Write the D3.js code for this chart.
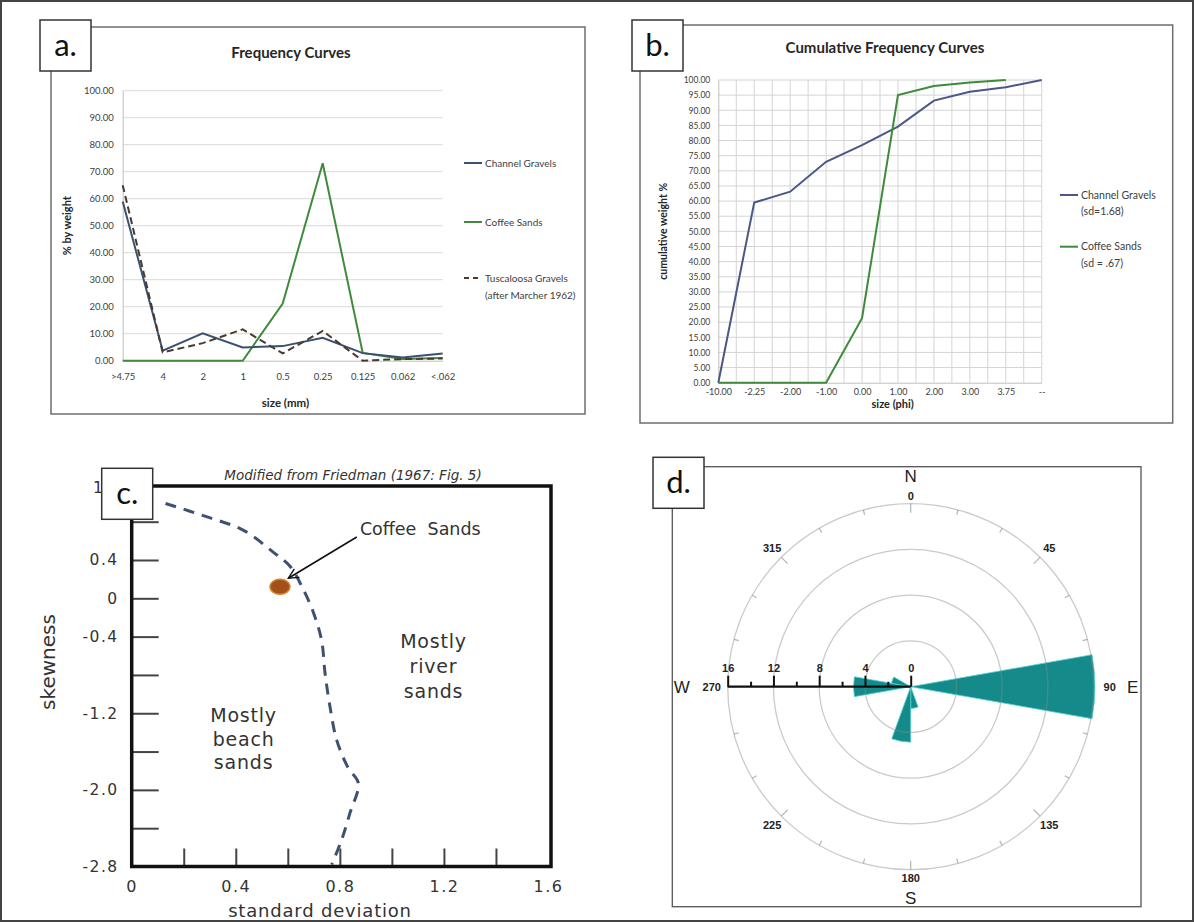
<!DOCTYPE html>
<html>
<head>
<meta charset="utf-8">
<script src="https://cdn.jsdelivr.net/npm/d3@7/dist/d3.min.js"></script>
<style>
  body { margin: 0; background: #fff; }
  svg { display: block; font-family: Lato, "Open Sans", sans-serif; }
</style>
</head>
<body>
<svg id="chart" width="1194" height="922"></svg>
<script>
// ---- a. frequency curves ----
const sizeClasses = ['>4.75', '4', '2', '1', '0.5', '0.25', '0.125', '0.062', '<.062'];
const channelGravelsPct = [59, 3.7, 10.1, 4.9, 5.4, 8.5, 2.8, 1.2, 2.7];
const coffeeSandsPct = [0, 0, 0, 0, 21.2, 73.1, 2.9, 0.6, 1.0];
const tuscaloosaPct = [65, 3.1, 6.5, 11.6, 2.7, 11.0, 0, 0.6, 0.8];
const freqLegend = [['Channel Gravels'], ['Coffee Sands'], ['Tuscaloosa Gravels', '(after Marcher 1962)']];

// ---- b. cumulative curves ----
const phiClasses = ['-10.00', '-2.25', '-2.00', '-1.00', '0.00', '1.00', '2.00', '3.00', '3.75', '--'];
const channelGravelsCum = [0, 59.5, 63.1, 73.0, 78.5, 84.6, 93.2, 96.1, 97.6, 100];
const coffeeSandsCum = [0, 0, 0, 0, 21.3, 95.0, 98.0, 99.2, 100, null];
const cumLegend = [['Channel Gravels', '(sd=1.68)'], ['Coffee Sands', '(sd = .67)']];

// ---- c. Friedman skewness vs standard deviation ----
const friedmanSD = [0.13, 0.29, 0.43, 0.54, 0.61, 0.66, 0.70, 0.73, 0.743, 0.762, 0.788, 0.832, 0.871, 0.839, 0.807, 0.769];
const friedmanSkew = [0.99, 0.85, 0.71, 0.49, 0.33, 0.09, -0.16, -0.44, -0.78, -1.13, -1.48, -1.77, -1.93, -2.24, -2.52, -2.78];
const coffeeSandsSD = 0.57;
const coffeeSandsSkew = 0.12;
const sdLabels = [0, 0.4, 0.8, 1.2, 1.6];
const sdTicks = [0.2, 0.4, 0.6, 0.8, 1.0, 1.2, 1.4];
const skewLabels = [-2.8, -2.0, -1.2, -0.4, 0, 0.4];
const skewTicks = [-2.4, -2.0, -1.6, -1.2, -0.8, -0.4, 0, 0.4, 0.8];

// ---- d. rose diagram ----
const roseDirections = [90, 170, 190, 270, 290];
const roseCounts = [16.1, 1.9, 4.85, 5.0, 1.7];
const roseBinWidth = 20;
const roseRings = [4, 8, 12, 16];
const roseAngleLabels = [0, 45, 90, 135, 180, 225, 270, 315];
const compassLetters = ['N', 'E', 'S', 'W'];

const svg = d3.select('#chart');

svg.append('rect')
    .attr('x', 1).attr('y', 1).attr('width', 1192).attr('height', 920)
    .attr('fill', '#fff').attr('stroke', '#444').attr('stroke-width', 2);

function labelBox(x, y, text) {
    svg.append('rect')
        .attr('x', x).attr('y', y).attr('width', 51).attr('height', 51)
        .attr('fill', '#fff').attr('stroke', '#333').attr('stroke-width', 1.5);
    svg.append('text')
        .attr('x', x + 25.5).attr('y', y + 36)
        .attr('text-anchor', 'middle')
        .attr('font-size', '31px')
        .attr('fill', '#111')
        .text(text);
}

function legendBlock(g, items, colors, dashes, x, ys, lineGap, fontSize) {
    items.forEach((lines, i) => {
        g.append('line')
            .attr('x1', x).attr('x2', x + 18)
            .attr('y1', ys[i]).attr('y2', ys[i])
            .attr('stroke', colors[i]).attr('stroke-width', 2)
            .attr('stroke-dasharray', dashes[i]);
        lines.forEach((t, j) => {
            g.append('text')
                .attr('x', x + 21).attr('y', ys[i] + j * lineGap)
                .attr('dy', '0.35em')
                .attr('font-size', fontSize)
                .attr('fill', '#404040')
                .text(t);
        });
    });
}

// hyphen minus, as in the original figure
const hyphen = f => d => f(d).replace('\u2212', '-');

// ================= a. =================
function drawFrequency() {
    const g = svg.append('g');
    g.append('rect')
        .attr('x', 51).attr('y', 27).attr('width', 534).attr('height', 387)
        .attr('fill', '#fff').attr('stroke', '#6e6e6e').attr('stroke-width', 1.5);

    const x = d3.scalePoint().domain(sizeClasses).range([122.7, 442.7]);
    const y = d3.scaleLinear().domain([0, 100]).range([360.7, 90.7]);

    g.append('g').selectAll('line')
        .data(d3.range(10, 101, 10))
        .join('line')
        .attr('x1', x.range()[0]).attr('x2', x.range()[1])
        .attr('y1', d => y(d)).attr('y2', d => y(d))
        .attr('stroke', '#d9d9d9');

    const yAxis = g.append('g')
        .attr('transform', `translate(${x.range()[0]},0)`)
        .call(d3.axisLeft(y).tickValues(d3.range(0, 101, 10)).tickFormat(d3.format('.2f')).tickSize(0).tickPadding(9));
    yAxis.select('.domain').attr('stroke', '#bfbfbf');
    yAxis.selectAll('text').attr('font-size', '9.5px').attr('font-family', 'Lato').attr('fill', '#404040');

    const xAxis = g.append('g')
        .attr('transform', `translate(0,${y(0)})`)
        .call(d3.axisBottom(x).tickSize(0).tickPadding(13));
    xAxis.select('.domain').attr('stroke', '#bfbfbf');
    xAxis.selectAll('text').attr('font-size', '9.5px').attr('font-family', 'Lato').attr('fill', '#404040');

    const line = d3.line()
        .x((d, i) => x(sizeClasses[i]))
        .y(d => y(d));

    g.append('path').datum(coffeeSandsPct)
        .attr('d', line).attr('fill', 'none')
        .attr('stroke', '#3f8a3b').attr('stroke-width', 2);
    g.append('path').datum(channelGravelsPct)
        .attr('d', line).attr('fill', 'none')
        .attr('stroke', '#3b5170').attr('stroke-width', 2);
    g.append('path').datum(tuscaloosaPct)
        .attr('d', line).attr('fill', 'none')
        .attr('stroke', '#4a3a2e').attr('stroke-width', 2)
        .attr('stroke-dasharray', '7,4');

    g.append('text')
        .attr('x', 291).attr('y', 53).attr('dy', '0.35em')
        .attr('text-anchor', 'middle')
        .attr('font-size', '15px').attr('font-weight', 'bold').attr('fill', '#262626')
        .text('Frequency Curves');

    g.append('text')
        .attr('transform', `translate(67,${(y(0) + y(100)) / 2}) rotate(-90)`)
        .attr('dy', '0.35em')
        .attr('text-anchor', 'middle')
        .attr('font-size', '11px').attr('font-weight', 'bold').attr('fill', '#262626')
        .text('% by weight');

    g.append('text')
        .attr('x', 285.5).attr('y', 403).attr('dy', '0.35em')
        .attr('text-anchor', 'middle')
        .attr('font-size', '11.5px').attr('font-weight', 'bold').attr('fill', '#262626')
        .text('size (mm)');

    legendBlock(g, freqLegend, ['#3b5170', '#3f8a3b', '#4a3a2e'], [null, null, '5,4'],
        464, [163, 222, 278], 17, '10px');
}

// ================= b. =================
function drawCumulative() {
    const g = svg.append('g');
    g.append('rect')
        .attr('x', 640).attr('y', 25).attr('width', 532.7).attr('height', 398)
        .attr('fill', '#fff').attr('stroke', '#6e6e6e').attr('stroke-width', 1.5);

    const x = d3.scalePoint().domain(phiClasses).range([718.3, 1041.7]);
    const y = d3.scaleLinear().domain([0, 100]).range([382.7, 80]);
    const half = x.step() / 2;

    g.append('g').selectAll('line')
        .data(d3.range(1, (phiClasses.length - 1) * 2 + 1))
        .join('line')
        .attr('x1', i => x.range()[0] + i * half).attr('x2', i => x.range()[0] + i * half)
        .attr('y1', y(0)).attr('y2', y(100))
        .attr('stroke', '#d4d4d4');
    g.append('g').selectAll('line')
        .data(d3.range(5, 101, 5))
        .join('line')
        .attr('x1', x.range()[0]).attr('x2', x.range()[1])
        .attr('y1', d => y(d)).attr('y2', d => y(d))
        .attr('stroke', '#d4d4d4');

    const yAxis = g.append('g')
        .attr('transform', `translate(${x.range()[0]},0)`)
        .call(d3.axisLeft(y).tickValues(d3.range(0, 101, 5)).tickFormat(d3.format('.2f')).tickSize(0).tickPadding(8));
    yAxis.select('.domain').attr('stroke', '#bfbfbf');
    yAxis.selectAll('text').attr('font-size', '8.5px').attr('font-family', 'Lato').attr('fill', '#404040');

    const xAxis = g.append('g')
        .attr('transform', `translate(0,${y(0)})`)
        .call(d3.axisBottom(x).tickSize(0).tickPadding(6));
    xAxis.select('.domain').attr('stroke', '#bfbfbf');
    xAxis.selectAll('text').attr('font-size', '9px').attr('font-family', 'Lato').attr('fill', '#404040');

    const line = d3.line()
        .defined(d => d != null)
        .x((d, i) => x(phiClasses[i]))
        .y(d => y(d));

    g.append('path').datum(channelGravelsCum)
        .attr('d', line).attr('fill', 'none')
        .attr('stroke', '#4a5787').attr('stroke-width', 2);
    g.append('path').datum(coffeeSandsCum)
        .attr('d', line).attr('fill', 'none')
        .attr('stroke', '#3f8a3b').attr('stroke-width', 2);

    g.append('text')
        .attr('x', 885).attr('y', 48).attr('dy', '0.35em')
        .attr('text-anchor', 'middle')
        .attr('font-size', '15px').attr('font-weight', 'bold').attr('fill', '#262626')
        .text('Cumulative Frequency Curves');

    g.append('text')
        .attr('transform', `translate(663,${(y(0) + y(100)) / 2}) rotate(-90)`)
        .attr('dy', '0.35em')
        .attr('text-anchor', 'middle')
        .attr('font-size', '10.5px').attr('font-weight', 'bold').attr('fill', '#262626')
        .text('cumulative weight %');

    g.append('text')
        .attr('x', 892.7).attr('y', 404).attr('dy', '0.35em')
        .attr('text-anchor', 'middle')
        .attr('font-size', '11px').attr('font-weight', 'bold').attr('fill', '#262626')
        .text('size (phi)');

    legendBlock(g, cumLegend, ['#4a5787', '#3f8a3b'], [null, null],
        1060, [195, 246.7], 16.5, '10.5px');
}

// ================= c. =================
function drawFriedman() {
    const g = svg.append('g').attr('font-family', '"DejaVu Sans", sans-serif');
    const x = d3.scaleLinear().domain([0, 1.6]).range([131.7, 548]);
    const y = d3.scaleLinear().domain([-2.8, 0.4]).range([866.5, 560]);
    const top = 486;
    const right = 551;

    const fmt = hyphen(d => d === 0 ? '0' : d3.format('.1f')(d));

    // tick marks
    const yt = g.append('g').attr('transform', `translate(${x(0)},0)`)
        .call(d3.axisRight(y).tickValues(skewTicks).tickSize(27).tickFormat(''));
    yt.select('.domain').remove();
    yt.selectAll('line').attr('stroke', '#444').attr('stroke-width', 2);

    const xt = g.append('g').attr('transform', `translate(0,${y(-2.8)})`)
        .call(d3.axisTop(x).tickValues(sdTicks).tickSize(18).tickFormat(''));
    xt.select('.domain').remove();
    xt.selectAll('line').attr('stroke', '#444').attr('stroke-width', 2);

    // frame
    g.append('rect')
        .attr('x', x(0)).attr('y', top)
        .attr('width', right - x(0)).attr('height', y(-2.8) - top)
        .attr('fill', 'none').attr('stroke', '#111').attr('stroke-width', 3.5);

    // tick labels
    const yl = g.append('g').attr('transform', `translate(${x(0)},0)`)
        .call(d3.axisLeft(y).tickValues(skewLabels).tickSize(0).tickPadding(13).tickFormat(fmt));
    yl.select('.domain').remove();
    yl.selectAll('text').attr('font-size', '15.5px').attr('font-family', '"DejaVu Sans"')
        .attr('letter-spacing', '1.5px').attr('fill', '#333');
    g.append('text')
        .attr('x', 98).attr('y', top + 2).attr('dy', '0.35em')
        .attr('text-anchor', 'middle')
        .attr('font-size', '15.5px').attr('fill', '#333')
        .text('1');

    const xl = g.append('g').attr('transform', `translate(0,${y(-2.8)})`)
        .call(d3.axisBottom(x).tickValues(sdLabels).tickSize(0).tickPadding(14).tickFormat(fmt));
    xl.select('.domain').remove();
    xl.selectAll('text').attr('font-size', '16px').attr('font-family', '"DejaVu Sans"')
        .attr('letter-spacing', '1.5px').attr('fill', '#333');

    // dashed Friedman boundary
    const pts = friedmanSD.map((d, i) => [x(d), y(friedmanSkew[i])]);
    g.append('path')
        .attr('d', d3.line().curve(d3.curveCatmullRom)(pts))
        .attr('fill', 'none')
        .attr('stroke', '#3e5170').attr('stroke-width', 3)
        .attr('stroke-dasharray', '11,8');

    // Coffee Sands point + arrow
    g.append('ellipse')
        .attr('cx', x(coffeeSandsSD)).attr('cy', y(coffeeSandsSkew))
        .attr('rx', 10).attr('ry', 7.5)
        .attr('fill', '#a3501a').attr('stroke', '#d5822e').attr('stroke-width', 1.5);

    svg.append('defs').append('marker')
        .attr('id', 'openArrow')
        .attr('viewBox', '0 0 12 12')
        .attr('refX', 11).attr('refY', 6)
        .attr('markerWidth', 12).attr('markerHeight', 12)
        .attr('markerUnits', 'userSpaceOnUse')
        .attr('orient', 'auto')
        .append('path')
        .attr('d', 'M1,1 L11,6 L1,11')
        .attr('fill', 'none').attr('stroke', '#111').attr('stroke-width', 1.4);

    g.append('line')
        .attr('x1', x(0.865)).attr('y1', y(0.64))
        .attr('x2', x(0.602)).attr('y2', y(0.21))
        .attr('stroke', '#111').attr('stroke-width', 1.6)
        .attr('marker-end', 'url(#openArrow)');

    g.append('text')
        .attr('x', x(0.877)).attr('y', y(0.73)).attr('dy', '0.35em')
        .attr('font-size', '17.5px').attr('fill', '#333')
        .style('white-space', 'pre')
        .text('Coffee  Sands');

    const regionText = (lines, sd, skews) => {
        lines.forEach((t, i) => {
            g.append('text')
                .attr('x', x(sd)).attr('y', y(skews[i])).attr('dy', '0.35em')
                .attr('text-anchor', 'middle')
                .attr('font-size', '19px').attr('letter-spacing', '0.8px').attr('fill', '#333')
                .text(t);
        });
    };
    regionText(['Mostly', 'river', 'sands'], 1.16, [-0.45, -0.71, -0.97]);
    regionText(['Mostly', 'beach', 'sands'], 0.43, [-1.22, -1.47, -1.71]);

    g.append('text')
        .attr('transform', `translate(48,662) rotate(-90)`)
        .attr('dy', '0.35em')
        .attr('text-anchor', 'middle')
        .attr('font-size', '20px').attr('fill', '#333')
        .text('skewness');

    g.append('text')
        .attr('x', 320).attr('y', 911).attr('dy', '0.35em')
        .attr('text-anchor', 'middle')
        .attr('font-size', '18px').attr('letter-spacing', '0.8px').attr('fill', '#333')
        .text('standard deviation');

    g.append('text')
        .attr('x', 353).attr('y', 475).attr('dy', '0.35em')
        .attr('text-anchor', 'middle')
        .attr('font-size', '13.5px').attr('font-style', 'italic').attr('fill', '#333')
        .text('Modified from Friedman (1967: Fig. 5)');
}

// ================= d. =================
function drawRose() {
    const cx = 910.7, cy = 686.7;
    const g = svg.append('g').attr('font-family', '"Liberation Sans", Arial, sans-serif');
    g.append('rect')
        .attr('x', 672.3).attr('y', 466.7).attr('width', 468.7).attr('height', 440)
        .attr('fill', '#fff').attr('stroke', '#555').attr('stroke-width', 1.3);

    const r = d3.scaleLinear().domain([0, 16]).range([0, 183]);
    const polar = g.append('g').attr('transform', `translate(${cx},${cy})`);
    const rad = a => a * Math.PI / 180;

    const arc = d3.arc()
        .innerRadius(0)
        .outerRadius(d => r(d.count))
        .startAngle(d => rad(d.dir - roseBinWidth / 2))
        .endAngle(d => rad(d.dir + roseBinWidth / 2));

    const bins = roseDirections.map((d, i) => ({ dir: d, count: roseCounts[i] }));

    // outer ring ticks every 15 degrees
    polar.append('g').selectAll('line')
        .data(d3.range(0, 360, 15))
        .join('line')
        .attr('x1', a => Math.sin(rad(a)) * r(16))
        .attr('y1', a => -Math.cos(rad(a)) * r(16))
        .attr('x2', a => Math.sin(rad(a)) * (r(16) - (a % 45 === 0 ? 9 : 5)))
        .attr('y2', a => -Math.cos(rad(a)) * (r(16) - (a % 45 === 0 ? 9 : 5)))
        .attr('stroke', '#b5b5b5').attr('stroke-width', 1.2);

    polar.append('g').selectAll('path')
        .data(bins)
        .join('path')
        .attr('d', arc)
        .attr('fill', '#148a8a')
        .attr('stroke', '#4fd0d0').attr('stroke-width', 0.8);

    polar.append('g').selectAll('circle')
        .data(roseRings)
        .join('circle')
        .attr('r', d => r(d))
        .attr('fill', 'none')
        .attr('stroke', '#8a8a8a').attr('stroke-opacity', 0.45).attr('stroke-width', 1.3);

    // scale bar along W
    const bar = d3.scaleLinear().domain([0, 16]).range([cx, cx - r(16)]);
    const major = g.append('g').attr('transform', `translate(0,${cy})`)
        .call(d3.axisTop(bar).tickValues([0, 4, 8, 12, 16]).tickSize(11).tickPadding(4));
    major.select('.domain').attr('stroke', '#111').attr('stroke-width', 2.2).attr('d', `M${cx},0H${cx - r(16)}`);
    major.selectAll('line').attr('stroke', '#111').attr('stroke-width', 2);
    major.selectAll('text').attr('font-size', '11px').attr('font-weight', 'bold')
        .attr('font-family', '"Liberation Sans", Arial').attr('fill', '#222');
    const minor = g.append('g').attr('transform', `translate(0,${cy})`)
        .call(d3.axisTop(bar).tickValues([2, 6, 10, 14]).tickSize(5).tickFormat(''));
    minor.select('.domain').remove();
    minor.selectAll('line').attr('stroke', '#111').attr('stroke-width', 2);

    // angle labels
    const labelR = a => a % 180 === 0 ? 191 : (a % 180 === 90 ? 199 : 196);
    polar.append('g').selectAll('text')
        .data(roseAngleLabels)
        .join('text')
        .attr('x', a => Math.sin(rad(a)) * labelR(a))
        .attr('y', a => -Math.cos(rad(a)) * labelR(a))
        .attr('dy', '0.35em')
        .attr('text-anchor', 'middle')
        .attr('font-size', '11px').attr('font-weight', 'bold').attr('fill', '#222')
        .text(a => a);

    const letterR = [211, 222, 211, 229];
    polar.append('g').selectAll('text')
        .data(compassLetters)
        .join('text')
        .attr('x', (d, i) => Math.sin(rad(i * 90)) * letterR[i])
        .attr('y', (d, i) => -Math.cos(rad(i * 90)) * letterR[i])
        .attr('dy', '0.36em')
        .attr('text-anchor', 'middle')
        .attr('font-size', '17px').attr('fill', '#222')
        .text(d => d);
}

drawFrequency();
drawCumulative();
drawFriedman();
drawRose();

labelBox(40, 20, 'a.');
labelBox(632, 20, 'b.');
labelBox(101.7, 468.3, 'c.');
labelBox(653, 457.3, 'd.');
</script>
</body>
</html>
